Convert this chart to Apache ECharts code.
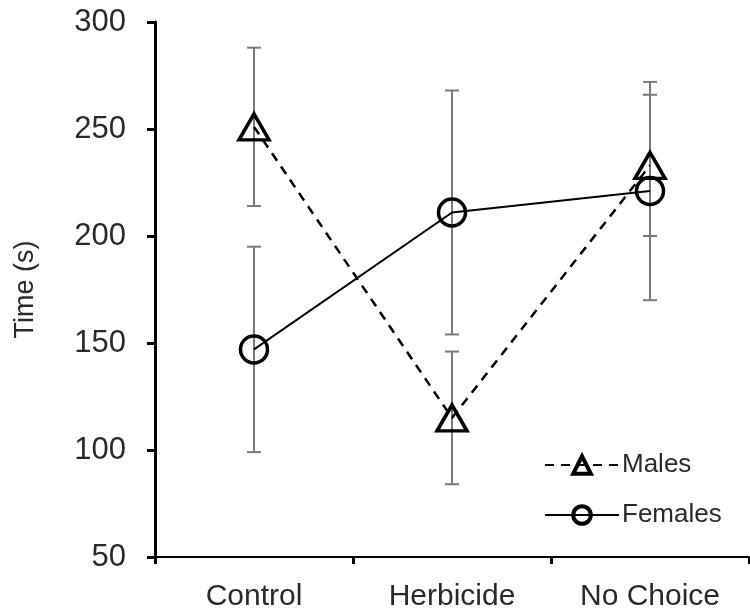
<!DOCTYPE html>
<html>
<head>
<meta charset="utf-8">
<script src="https://cdn.jsdelivr.net/npm/echarts@6/dist/echarts.min.js"></script>
<style>html,body{margin:0;padding:0;background:#fff;}#c{width:750px;height:612px;}</style>
</head>
<body>
<div id="c"></div>
<script>
var categories = ['Control', 'Herbicide', 'No Choice'];
var males = [251, 115, 233];
var malesErr = [37, 31, 33];
var females = [147, 211, 221];
var femalesErr = [48, 57, 51];
var yTicks = [50, 100, 150, 200, 250, 300];

var FONT = '"Liberation Sans", Arial, sans-serif';
var TXT = '#2a2a2a';

function errData(vals, errs) {
  return vals.map(function (v, i) { return [i, v - errs[i], v + errs[i]]; });
}
function errSeries(name, vals, errs) {
  return {
    type: 'custom',
    name: name + ' err',
    z: 1,
    silent: true,
    data: errData(vals, errs),
    renderItem: function (params, api) {
      var x = api.value(0);
      var lo = api.coord([x, api.value(1)]);
      var hi = api.coord([x, api.value(2)]);
      var cap = 7;
      var st = { stroke: '#7a7a7a', lineWidth: 2 };
      return {
        type: 'group',
        children: [
          { type: 'line', shape: { x1: lo[0], y1: lo[1], x2: hi[0], y2: hi[1] }, style: st },
          { type: 'line', shape: { x1: lo[0] - cap, y1: lo[1], x2: lo[0] + cap, y2: lo[1] }, style: st },
          { type: 'line', shape: { x1: hi[0] - cap, y1: hi[1], x2: hi[0] + cap, y2: hi[1] }, style: st }
        ]
      };
    }
  };
}

var chart = echarts.init(document.getElementById('c'));
chart.setOption({
  animation: false,
  backgroundColor: '#fff',
  grid: { left: 155, right: 1, top: 22, bottom: 55, containLabel: false },
  legend: {
    orient: 'vertical',
    left: 539,
    top: 447,
    itemWidth: 74,
    itemHeight: 22,
    itemGap: 24,
    data: [
      { name: 'Males', itemStyle: { borderWidth: 4, borderColor: '#000' } },
      { name: 'Females', itemStyle: { borderWidth: 4, borderColor: '#000' } }
    ],
    textStyle: { fontFamily: FONT, fontSize: 26, color: TXT, padding: [0, 0, 0, -2] }
  },
  xAxis: {
    type: 'category',
    data: categories,
    boundaryGap: true,
    axisLine: { lineStyle: { color: '#000', width: 2 } },
    axisTick: { show: true, length: 7, lineStyle: { color: '#000', width: 3 } },
    axisLabel: { fontFamily: FONT, fontSize: 30, color: TXT, margin: 25 }
  },
  yAxis: {
    type: 'value',
    min: yTicks[0],
    max: yTicks[yTicks.length - 1],
    interval: 50,
    name: 'Time (s)',
    nameLocation: 'middle',
    nameGap: 116,
    nameTextStyle: { fontFamily: FONT, fontSize: 27, color: TXT },
    splitLine: { show: false },
    axisLine: { show: true, lineStyle: { color: '#000', width: 3 } },
    axisTick: { show: true, length: 8, lineStyle: { color: '#000', width: 3 } },
    axisLabel: { fontFamily: FONT, fontSize: 31, color: TXT, margin: 29 }
  },
  series: [
    errSeries('Males', males, malesErr),
    errSeries('Females', females, femalesErr),
    {
      name: 'Males',
      type: 'line',
      z: 3,
      data: males,
      symbol: 'triangle',
      symbolSize: [30, 26],
      lineStyle: { color: '#000', width: 2.5, type: [9, 7] },
      itemStyle: { color: 'rgba(255,255,255,0)', borderColor: '#000', borderWidth: 3.5 }
    },
    {
      name: 'Females',
      type: 'line',
      z: 3,
      data: females,
      symbol: 'circle',
      symbolSize: 27,
      lineStyle: { color: '#000', width: 2 },
      itemStyle: { color: 'rgba(255,255,255,0)', borderColor: '#000', borderWidth: 3.5 }
    }
  ]
});
</script>
</body>
</html>
